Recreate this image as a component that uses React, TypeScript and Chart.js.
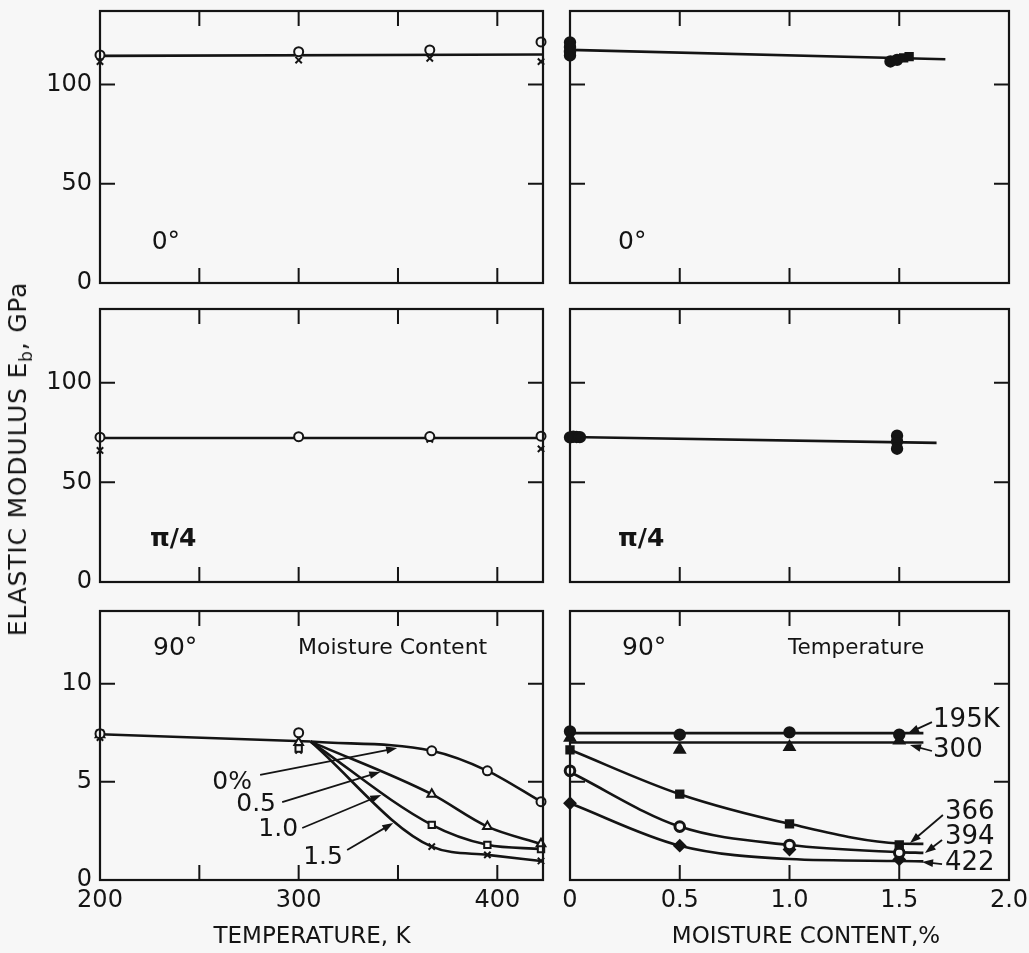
import React, { useEffect, useRef } from "react";
import { Chart, registerables } from "chart.js";

Chart.register(...registerables);

// ---------------- data ----------------
// 0° orientation, modulus (GPa) vs temperature (K)
const TEMP = [200, 300, 366, 422];
const E0_T_DRY = [114.9, 116.5, 117.4, 121.4]; // 0 % moisture (o)
const E0_T_WET = [111.5, 112.3, 113.2, 111.5]; // 1.5 % moisture (x)
const FIT_TEMP = [200, 423];
const E0_T_FIT = [114.4, 115.1];

// π/4 orientation vs temperature
const E45_T_DRY = [72.7, 72.9, 73.0, 73.2];
const E45_T_WET = [66.0, 72.4, 71.6, 66.8];
const E45_T_FIT = [72.3, 72.3];

// 0° orientation vs moisture (%)
const MOIST_0 = [0, 0, 0, 0, 1.46, 1.49, 1.52, 1.545];
const E0_M = [121.2, 118.8, 116.4, 114.6, 111.6, 112.4, 113.4, 114.0];
const FIT_MOIST_0 = [0, 1.71];
const E0_M_FIT = [117.4, 112.7];

// π/4 orientation vs moisture
const MOIST_45 = [0, 0.015, 0.03, 0.045, 1.49, 1.49, 1.49];
const E45_M = [72.6, 72.9, 72.8, 72.7, 73.4, 70.6, 66.9];
const FIT_MOIST_45 = [0, 1.67];
const E45_M_FIT = [72.8, 69.8];

// 90° orientation vs temperature, one series per moisture content
const TEMP_90 = [200, 300, 367, 395, 422];
const E90_M00 = [7.45, 7.5, 6.58, 5.56, 3.99];
const E90_M05 = [7.4, 7.0, 4.37, 2.72, 1.84];
const E90_M10 = [7.45, 6.7, 2.81, 1.79, 1.58];
const E90_M15 = [7.25, 6.6, 1.7, 1.28, 0.97];
const BASE_TEMP = [200, 306];
const E90_BASE = [7.42, 7.05];
const CURVE_TEMP = [306, 367, 395, 422];

// 90° orientation vs moisture, one series per temperature
const MOIST_90 = [0, 0.5, 1.0, 1.5];
const E90_K195 = [7.57, 7.4, 7.52, 7.4];
const E90_K300 = [7.24, 6.63, 6.77, 7.1];
const E90_K366 = [6.63, 4.37, 2.86, 1.79];
const E90_K394 = [5.56, 2.72, 1.78, 1.39];
const E90_K422 = [3.91, 1.75, 1.55, 1.05];
const FLAT_MOIST = [0, 1.61];
const FIT_K195 = [7.48, 7.48];
const FIT_K300 = [7.0, 7.0];
const CURVE_MOIST = [0, 0.5, 1.0, 1.5, 1.61];
const FIT_K366 = [6.63, 4.37, 2.86, 1.86, 1.84];
const FIT_K394 = [5.5, 2.72, 1.78, 1.42, 1.38];
const FIT_K422 = [3.91, 1.75, 1.07, 0.97, 0.95];

// axis ticks
const TEMP_TICKS = [200, 300, 400];
const TEMP_TICK_LABELS = ["200", "300", "400"];
const TEMP_MARKS = [250, 300, 350, 400];
const MOIST_TICKS = [0, 0.5, 1.0, 1.5, 2.0];
const MOIST_TICK_LABELS = ["0", "0.5", "1.0", "1.5", "2.0"];
const MOIST_MARKS = [0.5, 1.0, 1.5];
const E_TICKS = [0, 50, 100];
const E_TICK_LABELS = ["0", "50", "100"];
const E90_TICKS = [0, 5, 10];
const E90_TICK_LABELS = ["0", "5", "10"];
const E_MARKS = [50, 100];
const E90_MARKS = [5, 10];

// ---------------- styling / layout ----------------
const BG = "#f7f7f7";
const INK = "#141414";
const FONT = "'DejaVu Sans', 'Liberation Sans', sans-serif";
const TICK_LEN = 15;

const COLS = [
  { left: 100, right: 543 },
  { left: 570, right: 1009 },
];
const ROWS = [
  { top: 11, bottom: 283 },
  { top: 309, bottom: 582 },
  { top: 611, bottom: 880 },
];

Chart.defaults.font.family = FONT;
Chart.defaults.color = INK;

const pts = (xs: number[], ys: number[]) => xs.map((x, i) => ({ x, y: ys[i] }));

const lineDs = (xs: number[], ys: number[], smooth = false) => ({
  data: pts(xs, ys),
  showLine: true,
  pointRadius: 0,
  borderColor: INK,
  borderWidth: 2.6,
  tension: smooth ? 0.4 : 0,
  cubicInterpolationMode: smooth ? "monotone" : "default",
  clip: false,
});

const markDs = (
  xs: number[],
  ys: number[],
  style: any,
  filled: boolean,
  radius = 4.5,
  bw = 2
) => ({
  data: pts(xs, ys),
  showLine: false,
  pointStyle: style,
  pointRadius: radius,
  pointBorderWidth: bw,
  pointBorderColor: INK,
  pointBackgroundColor: filled ? INK : BG,
  clip: false,
});

type Note = { text: string; x: number; y: number; size: number; align?: string; weight?: string };
type Arrow = [number, number, number, number];

type Spec = {
  col: number;
  row: number;
  xMin: number;
  xMax: number;
  yMax: number;
  xTicks: number[];
  xTickLabels: string[];
  xMarks: number[];
  yTicks: number[];
  yTickLabels: string[];
  yMarks: number[];
  datasets: any[];
  notes: Note[];
  arrows: Arrow[];
};

const curve90 = (ys: number[]) => [E90_BASE[1], ...ys.slice(2)];

const SPECS: Spec[] = [
  {
    col: 0, row: 0, xMin: 200, xMax: 423, yMax: 137,
    xTicks: TEMP_TICKS, xTickLabels: TEMP_TICK_LABELS, xMarks: TEMP_MARKS,
    yTicks: E_TICKS, yTickLabels: E_TICK_LABELS, yMarks: E_MARKS,
    datasets: [
      markDs(TEMP, E0_T_DRY, "circle", false),
      markDs(TEMP, E0_T_WET, "crossRot", false),
      lineDs(FIT_TEMP, E0_T_FIT),
    ],
    notes: [{ text: "0°", x: 226, y: 20.6, size: 25, align: "left" }],
    arrows: [],
  },
  {
    col: 1, row: 0, xMin: 0, xMax: 2, yMax: 137,
    xTicks: MOIST_TICKS, xTickLabels: MOIST_TICK_LABELS, xMarks: MOIST_MARKS,
    yTicks: E_TICKS, yTickLabels: E_TICK_LABELS, yMarks: E_MARKS,
    datasets: [
      markDs(MOIST_0, E0_M, ["circle", "circle", "circle", "circle", "circle", "circle", "rect", "rect"], true, 5.2),
      lineDs(FIT_MOIST_0, E0_M_FIT),
    ],
    notes: [{ text: "0°", x: 0.219, y: 20.6, size: 25, align: "left" }],
    arrows: [],
  },
  {
    col: 0, row: 1, xMin: 200, xMax: 423, yMax: 137,
    xTicks: TEMP_TICKS, xTickLabels: TEMP_TICK_LABELS, xMarks: TEMP_MARKS,
    yTicks: E_TICKS, yTickLabels: E_TICK_LABELS, yMarks: E_MARKS,
    datasets: [
      markDs(TEMP, E45_T_DRY, "circle", false),
      markDs(TEMP, E45_T_WET, "crossRot", false),
      lineDs(FIT_TEMP, E45_T_FIT),
    ],
    notes: [{ text: "π/4", x: 225.2, y: 21.1, size: 25, align: "left", weight: "bold" }],
    arrows: [],
  },
  {
    col: 1, row: 1, xMin: 0, xMax: 2, yMax: 137,
    xTicks: MOIST_TICKS, xTickLabels: MOIST_TICK_LABELS, xMarks: MOIST_MARKS,
    yTicks: E_TICKS, yTickLabels: E_TICK_LABELS, yMarks: E_MARKS,
    datasets: [
      markDs(MOIST_45, E45_M, "circle", true, 5.2),
      lineDs(FIT_MOIST_45, E45_M_FIT),
    ],
    notes: [{ text: "π/4", x: 0.219, y: 21.1, size: 25, align: "left", weight: "bold" }],
    arrows: [],
  },
  {
    col: 0, row: 2, xMin: 200, xMax: 423, yMax: 13.7,
    xTicks: TEMP_TICKS, xTickLabels: TEMP_TICK_LABELS, xMarks: TEMP_MARKS,
    yTicks: E90_TICKS, yTickLabels: E90_TICK_LABELS, yMarks: E90_MARKS,
    datasets: [
      markDs(TEMP_90, E90_M00, "circle", false),
      markDs(TEMP_90, E90_M05, "triangle", false, 5),
      markDs(TEMP_90, E90_M10, "rect", false, 4.5),
      markDs(TEMP_90, E90_M15, "crossRot", false, 4.5),
      lineDs(BASE_TEMP, E90_BASE),
      lineDs(CURVE_TEMP, curve90(E90_M00), true),
      lineDs(CURVE_TEMP, curve90(E90_M05), true),
      lineDs(CURVE_TEMP, curve90(E90_M10), true),
      lineDs(CURVE_TEMP, curve90(E90_M15), true),
    ],
    notes: [
      { text: "90°", x: 226.7, y: 11.8, size: 25, align: "left" },
      { text: "Moisture Content", x: 299.7, y: 11.8, size: 22, align: "left" },
      { text: "0%", x: 266.5, y: 4.99, size: 25, align: "center" },
      { text: "0.5", x: 278.6, y: 3.82, size: 25, align: "center" },
      { text: "1.0", x: 289.7, y: 2.55, size: 25, align: "center" },
      { text: "1.5", x: 312.3, y: 1.17, size: 25, align: "center" },
    ],
    arrows: [
      [280.6, 5.35, 349.6, 6.72],
      [291.7, 3.97, 341.1, 5.5],
      [301.8, 2.65, 341.6, 4.33],
      [324.4, 1.53, 347.6, 2.9],
    ],
  },
  {
    col: 1, row: 2, xMin: 0, xMax: 2, yMax: 13.7,
    xTicks: MOIST_TICKS, xTickLabels: MOIST_TICK_LABELS, xMarks: MOIST_MARKS,
    yTicks: E90_TICKS, yTickLabels: E90_TICK_LABELS, yMarks: E90_MARKS,
    datasets: [
      markDs(MOIST_90, E90_K195, "circle", true, 5.2),
      markDs(MOIST_90, E90_K300, "triangle", true, 6),
      markDs(MOIST_90, E90_K366, "rect", true, 5.2),
      markDs(MOIST_90, E90_K394, "circle", false, 4.8, 3),
      markDs(MOIST_90, E90_K422, "rectRot", true, 5.5),
      lineDs(FLAT_MOIST, FIT_K195),
      lineDs(FLAT_MOIST, FIT_K300),
      lineDs(CURVE_MOIST, FIT_K366, true),
      lineDs(CURVE_MOIST, FIT_K394, true),
      lineDs(CURVE_MOIST, FIT_K422, true),
    ],
    notes: [
      { text: "90°", x: 0.237, y: 11.8, size: 25, align: "left" },
      { text: "Temperature", x: 0.993, y: 11.8, size: 21.5, align: "left" },
      { text: "195K", x: 1.654, y: 8.15, size: 26, align: "left" },
      { text: "300", x: 1.654, y: 6.62, size: 26, align: "left" },
      { text: "366", x: 1.708, y: 3.46, size: 26, align: "left" },
      { text: "394", x: 1.708, y: 2.19, size: 26, align: "left" },
      { text: "422", x: 1.708, y: 0.87, size: 26, align: "left" },
    ],
    arrows: [
      [1.649, 8.04, 1.54, 7.48],
      [1.649, 6.57, 1.549, 6.87],
      [1.699, 3.31, 1.549, 1.88],
      [1.695, 2.04, 1.617, 1.37],
      [1.695, 0.81, 1.604, 0.92],
    ],
  },
];

function decorPlugin(spec: Spec) {
  return {
    id: "decor",
    afterDatasetsDraw(chart: any) {
      const { ctx, chartArea: a } = chart;
      const x = chart.scales.x;
      const y = chart.scales.y;
      ctx.save();
      ctx.strokeStyle = INK;
      ctx.fillStyle = INK;
      ctx.lineWidth = 2.2;
      ctx.strokeRect(a.left, a.top, a.right - a.left, a.bottom - a.top);
      ctx.lineWidth = 2;
      ctx.beginPath();
      spec.xMarks.forEach((v) => {
        const px = x.getPixelForValue(v);
        ctx.moveTo(px, a.top);
        ctx.lineTo(px, a.top + TICK_LEN);
        ctx.moveTo(px, a.bottom);
        ctx.lineTo(px, a.bottom - TICK_LEN);
      });
      spec.yMarks.forEach((v) => {
        const py = y.getPixelForValue(v);
        ctx.moveTo(a.left, py);
        ctx.lineTo(a.left + TICK_LEN, py);
        ctx.moveTo(a.right, py);
        ctx.lineTo(a.right - TICK_LEN, py);
      });
      ctx.stroke();

      spec.notes.forEach((n) => {
        ctx.font = `${n.weight || "normal"} ${n.size}px ${FONT}`;
        ctx.textAlign = n.align || "left";
        ctx.textBaseline = "middle";
        ctx.fillText(n.text, x.getPixelForValue(n.x), y.getPixelForValue(n.y));
      });

      spec.arrows.forEach(([x1v, y1v, x2v, y2v]) => {
        const x1 = x.getPixelForValue(x1v);
        const y1 = y.getPixelForValue(y1v);
        const x2 = x.getPixelForValue(x2v);
        const y2 = y.getPixelForValue(y2v);
        const ang = Math.atan2(y2 - y1, x2 - x1);
        const L = 11;
        const W = 3.8;
        const c = Math.cos(ang);
        const s = Math.sin(ang);
        ctx.lineWidth = 1.8;
        ctx.beginPath();
        ctx.moveTo(x1, y1);
        ctx.lineTo(x2 - L * 0.6 * c, y2 - L * 0.6 * s);
        ctx.stroke();
        ctx.beginPath();
        ctx.moveTo(x2, y2);
        ctx.lineTo(x2 - L * c + W * s, y2 - L * s - W * c);
        ctx.lineTo(x2 - L * c - W * s, y2 - L * s + W * c);
        ctx.closePath();
        ctx.fill();
      });
      ctx.restore();
    },
  };
}

function Panel({ spec }: { spec: Spec }) {
  const ref = useRef<HTMLCanvasElement | null>(null);
  const col = COLS[spec.col];
  const row = ROWS[spec.row];
  const showY = spec.col === 0;
  const showX = spec.row === 2;
  const padL = showY ? 70 : 24;
  const padR = 40;
  const padT = 34;
  const padB = showX ? 48 : 34;
  const width = col.right - col.left + padL + padR;
  const height = row.bottom - row.top + padT + padB;

  useEffect(() => {
    if (!ref.current) return;
    const chart = new Chart(ref.current, {
      type: "scatter",
      data: { datasets: spec.datasets },
      options: {
        animation: false,
        responsive: false,
        maintainAspectRatio: false,
        events: [],
        layout: {
          padding: {
            left: showY ? 0 : padL,
            right: padR,
            top: padT,
            bottom: showX ? 0 : padB,
          },
        },
        plugins: { legend: { display: false }, tooltip: { enabled: false } },
        scales: {
          x: {
            type: "linear",
            min: spec.xMin,
            max: spec.xMax,
            display: showX,
            grid: { display: false, drawTicks: false },
            border: { display: false },
            ticks: {
              color: INK,
              font: { size: 24, family: FONT },
              padding: 6,
              maxRotation: 0,
              autoSkip: false,
              callback: (_v: any, i: number) => spec.xTickLabels[i],
            },
            afterBuildTicks: (s: any) => {
              s.ticks = spec.xTicks.map((v) => ({ value: v }));
            },
            afterFit: (s: any) => {
              if (showX) s.height = padB;
            },
          },
          y: {
            type: "linear",
            min: 0,
            max: spec.yMax,
            display: showY,
            grid: { display: false, drawTicks: false },
            border: { display: false },
            ticks: {
              color: INK,
              font: { size: 24, family: FONT },
              padding: 8,
              autoSkip: false,
              callback: (_v: any, i: number) => spec.yTickLabels[i],
            },
            afterBuildTicks: (s: any) => {
              s.ticks = spec.yTicks.map((v) => ({ value: v }));
            },
            afterFit: (s: any) => {
              if (showY) s.width = padL;
            },
          },
        },
      } as any,
      plugins: [decorPlugin(spec)],
    } as any);
    return () => chart.destroy();
  }, []);

  return (
    <canvas
      ref={ref}
      width={width}
      height={height}
      style={{
        position: "absolute",
        left: col.left - padL,
        top: row.top - padT,
        width,
        height,
      }}
    />
  );
}

export default function App() {
  return (
    <div
      style={{
        position: "fixed",
        left: 0,
        top: 0,
        width: 1029,
        height: 953,
        background: BG,
        overflow: "hidden",
        fontFamily: FONT,
        color: INK,
      }}
    >
      {SPECS.map((s, i) => (
        <Panel key={i} spec={s} />
      ))}
      <div
        style={{
          position: "absolute",
          left: 20,
          top: 459,
          transform: "translate(-50%, -50%) rotate(-90deg)",
          whiteSpace: "nowrap",
          fontSize: 25,
          letterSpacing: 0.8,
          lineHeight: 1,
        }}
      >
        ELASTIC MODULUS E<sub style={{ fontSize: 17 }}>b</sub>, GPa
      </div>
      <div
        style={{
          position: "absolute",
          left: 312,
          top: 935,
          transform: "translate(-50%, -50%)",
          whiteSpace: "nowrap",
          fontSize: 23,
          lineHeight: 1,
        }}
      >
        TEMPERATURE, K
      </div>
      <div
        style={{
          position: "absolute",
          left: 806,
          top: 935,
          transform: "translate(-50%, -50%)",
          whiteSpace: "nowrap",
          fontSize: 23,
          lineHeight: 1,
        }}
      >
        MOISTURE CONTENT,%
      </div>
    </div>
  );
}
